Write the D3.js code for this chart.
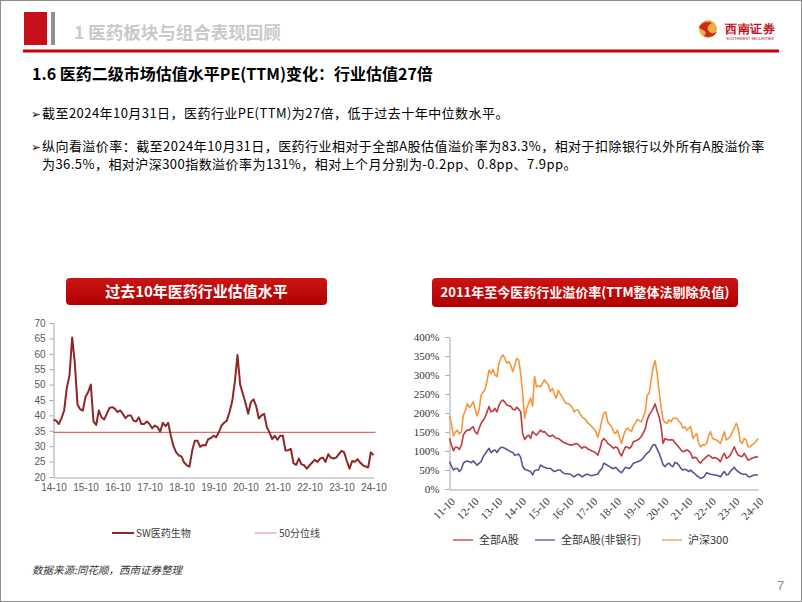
<!DOCTYPE html>
<html><head><meta charset="utf-8">
<script src="https://cdn.jsdelivr.net/npm/d3@7"></script>
<style>body{margin:0;background:#fff}svg{display:block}</style>
</head><body>
<svg id="c" width="802" height="602"></svg>
<script>
// ---------- DATA ----------
// Left chart: SW医药生物 PE(TTM), monthly 2014-10 .. 2024-10
const peStart = "2014-10";
const peValues = [
  38.6,38.3,37.2,
  39.1,41.6,49,53,65.3,57,43.5,42,41.6,46,47.6,50,
  38,36.9,41.6,39.4,38.7,40.5,42.4,42.7,42.2,41.1,41.6,40.5,
  39.1,40,40,38.3,38,39.4,37.2,37.2,38,37.2,35.8,36.7,
  36.2,34.7,37.6,36.5,37.6,33.4,30,28,27,26.7,24.7,23.8,
  23.4,28.5,31.8,31.8,29.8,30.4,30.2,32.3,32.6,33.4,32.9,34.5,
  36.7,37.6,38.3,41.1,44.5,50.9,59.6,50,47,44,40.5,44.3,
  45.2,43,39,40,40.5,36.2,34.5,32.3,33.4,32.1,33.4,33.4,
  28.6,28.7,29.1,24.5,23.9,26,24.1,23.8,22.7,23.8,24.7,25.6,
  24.9,26,26.3,24.9,27.4,26.3,26,26.3,27.4,28.5,28,25.2,
  22.7,25.2,24.9,25.8,24.7,23.8,23.4,23.1,28,27.1
];
const peMedian = 34.5;
const peXLabels = ["14-10","15-10","16-10","17-10","18-10","19-10","20-10","21-10","22-10","23-10","24-10"];
const peYTicks = [20,25,30,35,40,45,50,55,60,65,70];
const peLegend = ["SW医药生物","50分位线"];

// Right chart: premium rate (%), monthly 2011-10 .. 2024-10
const premStart = "2011-10";
const premAll = [
  133,116,101,
  110,110,104,115,142,150,155,155,160,164,150,145,
  160,173,180,189,203,217,203,205,212,203,220,230,
  234,228,221,219,217,210,208,215,210,203,146,130,
  138,142,133,151,146,142,148,155,150,151,146,140,
  138,142,138,133,133,129,125,122,120,118,116,116,
  118,120,118,112,107,111,110,105,103,100,98,95,
  89,105,125,133,128,120,116,112,107,111,108,95,
  87,100,111,110,107,112,125,126,129,132,138,148,
  158,182,195,203,212,224,205,190,164,120,133,130,
  129,130,129,122,116,110,103,98,100,103,100,94,
  81,84,81,72,68,76,80,85,89,86,81,83,
  81,78,72,85,94,81,84,89,100,111,98,89,
  87,85,94,85,76,78,81,83,85,83
];
const premNonBank = [
  72,60,50,
  54,54,46,52,68,72,74,72,69,74,68,63,
  68,72,85,92,100,107,96,100,103,96,104,110,
  109,107,104,101,98,96,89,90,92,83,60,52,
  50,48,46,37,48,50,50,63,60,57,55,54,
  54,50,46,48,50,50,44,41,40,40,39,36,
  32,36,39,37,32,35,38,39,36,35,37,38,
  39,48,54,68,65,62,59,55,54,57,52,46,
  43,50,57,55,54,60,68,70,72,74,76,82,
  89,95,98,108,116,116,105,94,80,64,59,65,
  68,62,59,70,68,63,54,50,52,50,46,50,
  44,41,35,32,28,30,34,43,41,39,38,37,
  36,35,32,40,46,37,38,46,52,57,50,46,
  42,39,39,39,33,32,35,37,37,37
];
const premHS300 = [
  192,170,140,
  150,155,145,150,195,205,225,215,220,230,210,192,
  210,247,255,262,285,313,304,315,300,296,331,345,
  353,344,331,335,325,309,325,344,339,304,250,186,
  212,225,239,218,296,269,272,269,278,287,280,274,
  256,265,250,239,260,250,243,232,225,225,221,215,
  203,208,208,198,190,186,182,173,170,164,158,151,
  136,155,180,199,203,177,170,164,150,146,155,135,
  120,140,155,160,155,151,165,173,183,180,177,190,
  203,247,252,287,322,338,304,256,217,182,175,173,
  182,177,186,186,186,178,173,160,164,155,160,164,
  133,140,146,120,111,116,116,120,140,151,133,131,
  129,125,120,135,151,129,133,138,150,160,173,160,
  125,120,133,129,111,111,116,120,125,133
];
const premXLabels = ["11-10","12-10","13-10","14-10","15-10","16-10","17-10","18-10","19-10","20-10","21-10","22-10","23-10","24-10"];
const premYTicks = [0,50,100,150,200,250,300,350,400];
const premSeriesNames = ["全部A股","全部A股(非银行)","沪深300"];

// ---------- DRAW ----------
const svg = d3.select("#c");
const CJK = "'Noto Sans CJK SC','Noto Sans',sans-serif";
const SANS = "'Liberation Sans',Arial,sans-serif";
const SERIF = "'Liberation Serif','Times New Roman',serif";

const defs = svg.append("defs");
const g = defs.append("linearGradient").attr("id","boxg").attr("x1",0).attr("y1",0).attr("x2",0).attr("y2",1);
g.append("stop").attr("offset","0%").attr("stop-color","#CC1414");
g.append("stop").attr("offset","100%").attr("stop-color","#B00000");

svg.append("rect").attr("x",0.5).attr("y",0.5).attr("width",801).attr("height",601)
  .attr("fill","#fff").attr("stroke","#8c8c8c");

// header
svg.append("rect").attr("x",24).attr("y",12).attr("width",23).attr("height",33).attr("fill","#C8101A");
svg.append("rect").attr("x",51).attr("y",12).attr("width",4).attr("height",33).attr("fill","#8f8f8f");
svg.append("text").attr("x",74).attr("y",39).attr("font-family",CJK).attr("font-weight","bold")
  .attr("font-size",17.5).attr("fill","#c9c9c9").text("1 医药板块与组合表现回顾");
svg.append("rect").attr("x",23).attr("y",49.5).attr("width",756).attr("height",3).attr("fill","#CC0000");

// logo
const lg = svg.append("g");
lg.append("circle").attr("cx",708).attr("cy",29).attr("r",9).attr("fill","#E8B040");
lg.append("path").attr("d","M699,27 Q704,20 712,23 Q706,26 708,30 Q710,35 717,32 Q712,39 704,36 Q708,32 703,30 Q700,29 699,27 Z").attr("fill","#D0281E");
lg.append("text").attr("x",725).attr("y",33).attr("font-family",SERIF).attr("font-weight","bold")
  .attr("font-size",12).attr("fill","#C0101A").attr("textLength",50).text("西南证券");
lg.append("text").attr("x",726).attr("y",39.5).attr("font-family",SANS)
  .attr("font-size",4).attr("fill","#C0101A").attr("textLength",48).text("SOUTHWEST SECURITIES");

// subtitle and bullets
svg.append("text").attr("x",32).attr("y",80).attr("font-family",CJK).attr("font-weight","bold")
  .attr("font-size",16).attr("fill","#000").text("1.6 医药二级市场估值水平PE(TTM)变化：行业估值27倍");

function bullet(x,y){
  svg.append("text").attr("x",x).attr("y",y).attr("font-family","'DejaVu Sans'").attr("font-size",11.5).attr("fill","#000").text("➢");
}
function para(y,txt){
  svg.append("text").attr("x",42).attr("y",y).attr("font-family",CJK).attr("font-size",13)
    .attr("letter-spacing",0.45).attr("fill","#000").text(txt);
}
bullet(31,118);
para(118,"截至2024年10月31日，医药行业PE(TTM)为27倍，低于过去十年中位数水平。");
bullet(31,150.5);
para(150.5,"纵向看溢价率：截至2024年10月31日，医药行业相对于全部A股估值溢价率为83.3%，相对于扣除银行以外所有A股溢价率");
para(169,"为36.5%，相对沪深300指数溢价率为131%，相对上个月分别为-0.2pp、0.8pp、7.9pp。");

// chart title boxes
function titleBox(x,y,w,h,txt,fs){
  svg.append("rect").attr("x",x).attr("y",y).attr("width",w).attr("height",h).attr("rx",4).attr("fill","url(#boxg)");
  svg.append("text").attr("x",x+w/2).attr("y",y+h/2+fs*0.37).attr("text-anchor","middle")
    .attr("font-family",CJK).attr("font-weight","bold").attr("font-size",fs).attr("fill","#fff").text(txt);
}
titleBox(66,278,261,27,"过去10年医药行业估值水平",15);
titleBox(432,278,306,29,"2011年至今医药行业溢价率(TTM整体法剔除负值)",13);

// ---------- Left chart ----------
const xL = d3.scaleLinear().domain([0, peValues.length-1]).range([53.5, 373.5]);
const yL = d3.scaleLinear().domain([20,70]).range([477,323]);

const axL = svg.append("g").attr("transform","translate(53.5,0)")
  .call(d3.axisLeft(yL).tickValues(peYTicks).tickSize(4).tickSizeOuter(0).tickPadding(4));
axL.selectAll("text").attr("font-family",SANS).attr("font-size",10).attr("fill","#595959");
axL.selectAll("line,path").attr("stroke","#a6a6a6");

const axLB = svg.append("g").attr("transform","translate(0,477.5)")
  .call(d3.axisBottom(xL).tickValues(peXLabels.map((d,i)=>i*12)).tickFormat((d,i)=>peXLabels[i])
    .tickSize(0).tickSizeOuter(0).tickPadding(6));
axLB.selectAll("text").attr("font-family",SANS).attr("font-size",10).attr("fill","#595959");
axLB.select("path").attr("stroke","#a6a6a6");

svg.append("line").attr("x1",xL(0)).attr("x2",xL(peValues.length-1)+2)
  .attr("y1",yL(peMedian)).attr("y2",yL(peMedian)).attr("stroke","#E06A6A").attr("stroke-width",1.2);

svg.append("path").datum(peValues)
  .attr("d", d3.line().x((d,i)=>xL(i)).y(d=>yL(d)))
  .attr("fill","none").attr("stroke","#8E2727").attr("stroke-width",2).attr("stroke-linejoin","round");

// left legend
const legL = [{c:"#8E2727",w:2,x:112},{c:"#E09A9A",w:1.2,x:255}];
legL.forEach((l,i)=>{
  svg.append("line").attr("x1",l.x).attr("x2",l.x+22).attr("y1",533).attr("y2",533).attr("stroke",l.c).attr("stroke-width",l.w);
  svg.append("text").attr("x",l.x+24).attr("y",536.5).attr("font-family",CJK).attr("font-size",10).attr("fill","#404040").text(peLegend[i]);
});

// ---------- Right chart ----------
const xR = d3.scaleLinear().domain([0, premAll.length-1]).range([449.5, 758]);
const yR = d3.scaleLinear().domain([0,400]).range([489,337]);

const axR = svg.append("g").attr("transform","translate(449.5,0)")
  .call(d3.axisLeft(yR).tickValues(premYTicks).tickFormat(d=>d+"%").tickSize(4).tickSizeOuter(0).tickPadding(6));
axR.selectAll("text").attr("font-family",SERIF).attr("font-size",11).attr("fill","#333");
axR.selectAll("line,path").attr("stroke","#a6a6a6");

const axRB = svg.append("g").attr("transform","translate(0,489.5)")
  .call(d3.axisBottom(xR).tickValues(premXLabels.map((d,i)=>i*12)).tickFormat((d,i)=>premXLabels[i])
    .tickSize(0).tickSizeOuter(0));
axRB.select("path").attr("stroke","#a6a6a6");
axRB.selectAll("text").attr("font-family",SERIF).attr("font-size",11).attr("fill","#333")
  .attr("text-anchor","end").attr("x",0).attr("y",0).attr("dy","0.35em")
  .attr("transform","translate(3,10) rotate(-45)");

const premSeries = [
  {v:premAll, c:"#C0393E"},
  {v:premNonBank, c:"#62508F"},
  {v:premHS300, c:"#F5963C"}
];
const lineR = d3.line().x((d,i)=>xR(i)).y(d=>yR(d));
premSeries.forEach(s=>{
  svg.append("path").datum(s.v).attr("d",lineR).attr("fill","none")
    .attr("stroke",s.c).attr("stroke-width",1.6).attr("stroke-linejoin","round");
});

const legRx = [453,535,662];
premSeries.forEach((s,i)=>{
  svg.append("line").attr("x1",legRx[i]).attr("x2",legRx[i]+20).attr("y1",540).attr("y2",540).attr("stroke",s.c).attr("stroke-width",1.3);
  svg.append("text").attr("x",legRx[i]+26).attr("y",544).attr("font-family",CJK).attr("font-size",11).attr("fill","#333").text(premSeriesNames[i]);
});

// source + page number
svg.append("text").attr("x",32).attr("y",574).attr("font-family",CJK).attr("font-style","italic")
  .attr("font-size",10.5).attr("fill","#333").text("数据来源:同花顺，西南证券整理");
svg.append("text").attr("x",777).attr("y",590).attr("font-family",SANS).attr("font-size",13).attr("fill","#8c8c8c").text("7");
</script>
</body></html>
